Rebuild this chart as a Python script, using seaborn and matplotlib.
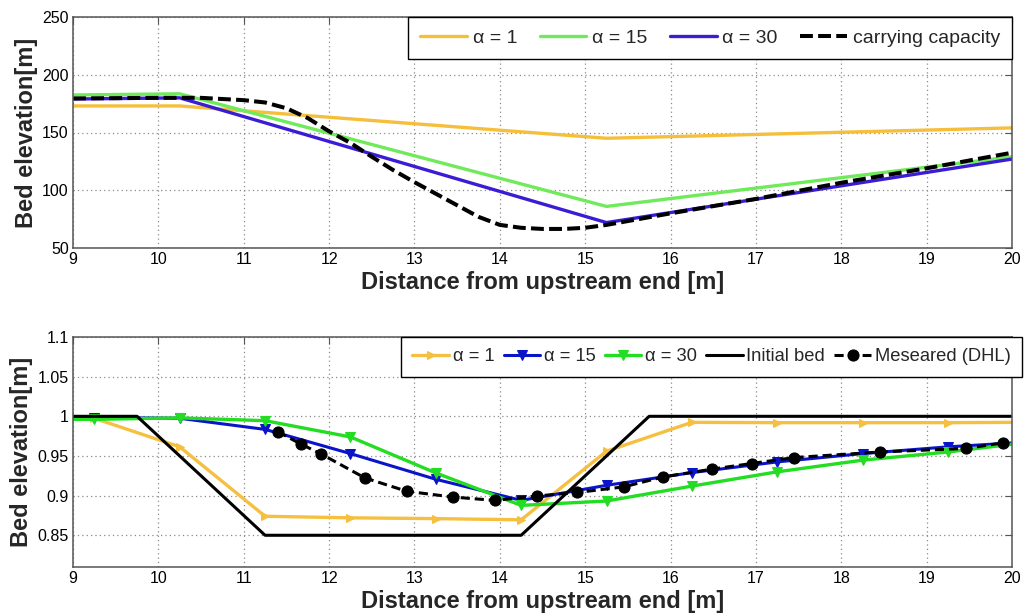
import matplotlib
matplotlib.use("Agg")
import matplotlib.pyplot as plt
import pandas as pd
import seaborn as sns

# ---------------- top panel data ----------------
top_x = [9, 10.25, 15.25, 20]
top_a1 = [173, 173, 145, 154]
top_a15 = [182.5, 183.5, 86, 129]
top_a30 = [179, 180, 72, 127]
cap_x = [9, 10, 10.5, 11, 11.25, 11.5, 11.75, 12, 12.25, 12.5, 12.75, 13, 13.25,
         13.5, 13.75, 14, 14.25, 14.5, 14.75, 15, 15.25, 16, 17, 18, 19, 20]
cap_y = [179.5, 180, 180, 178, 176, 171, 162.5, 151, 141, 129, 117.5, 107, 97,
         87, 77, 70, 67.5, 66.5, 66.5, 67.5, 70, 80, 92.5, 106.5, 119, 132.5]
top_labels = ["\u03b1 = 1", "\u03b1 = 15", "\u03b1 = 30", "carrying capacity"]

# ---------------- bottom panel data ----------------
bot_x = [8.25, 9.25, 10.25, 11.25, 12.25, 13.25, 14.25, 15.25, 16.25, 17.25,
         18.25, 19.25, 20.25]
bot_a1 = [1.0, 0.9975, 0.9615, 0.874, 0.872, 0.871, 0.8695, 0.956, 0.9924,
          0.992, 0.992, 0.992, 0.9925]
bot_a15 = [0.999, 0.9985, 0.9975, 0.9835, 0.953, 0.9206, 0.894, 0.913, 0.929,
           0.9425, 0.953, 0.9615, 0.968]
bot_a30 = [0.996, 0.9962, 0.998, 0.9945, 0.974, 0.9286, 0.8877, 0.8932, 0.912,
           0.930, 0.9447, 0.955, 0.968]
bed_x = [9, 9.75, 11.25, 14.25, 15.75, 20]
bed_y = [1.0, 1.0, 0.85, 0.85, 1.0, 1.0]
meas_x = [11.40, 11.67, 11.91, 12.42, 12.91, 13.45, 13.94, 14.43, 14.91, 15.45,
          15.91, 16.48, 16.95, 17.45, 18.45, 19.46, 19.90]
meas_y = [0.9805, 0.965, 0.9523, 0.9223, 0.9055, 0.8982, 0.894, 0.8995, 0.904,
          0.911, 0.9235, 0.9333, 0.9405, 0.948, 0.955, 0.9595, 0.9666]
bot_labels = ["\u03b1 = 1", "\u03b1 = 15", "\u03b1 = 30", "Initial bed",
              "Meseared (DHL)"]

x_ticks = list(range(9, 21))
top_yticks = [50, 100, 150, 200, 250]
bot_yticks = [0.85, 0.9, 0.95, 1.0, 1.05, 1.1]
bot_yticklabels = ["0.85", "0.9", "0.95", "1", "1.05", "1.1"]

xlabel = "Distance from upstream end [m]"
ylabel = "Bed elevation[m]"

sns.set_style("white")
plt.rcParams["font.family"] = ["Liberation Sans", "DejaVu Sans"]

fig = plt.figure(figsize=(10.24, 6.14), dpi=100)
W, H = 1024, 614
ax1 = fig.add_axes([73 / W, 1 - 248 / H, (1012 - 73) / W, (248 - 17) / H])
ax2 = fig.add_axes([73 / W, 1 - 567 / H, (1012 - 73) / W, (567 - 337) / H])


def style_axes(ax):
    ax.grid(True, linestyle=(0, (1, 2.5)), color="#8a8a8a", linewidth=0.9)
    ax.set_axisbelow(True)
    for s in ax.spines.values():
        s.set_color("#555555")
        s.set_linewidth(1.1)
    ax.tick_params(direction="in", top=True, right=True, length=5,
                   color="#555555", labelsize=11.5, labelcolor="black", pad=3)
    ax.set_xlim(9, 20)
    ax.set_xticks(x_ticks)
    ax.set_xlabel(xlabel, fontsize=17, fontweight="bold", labelpad=3)
    ax.set_ylabel(ylabel, fontsize=17, fontweight="bold", labelpad=3)


# ---------------- top panel ----------------
c_or, c_gr, c_bl = "#F5BF3C", "#6FEA5A", "#3A1CD4"
sns.lineplot(x=top_x, y=top_a1, ax=ax1, color=c_or, lw=2.4, label=top_labels[0],
             estimator=None, sort=False)
sns.lineplot(x=top_x, y=top_a15, ax=ax1, color=c_gr, lw=2.4, label=top_labels[1],
             estimator=None, sort=False)
sns.lineplot(x=top_x, y=top_a30, ax=ax1, color=c_bl, lw=2.4, label=top_labels[2],
             estimator=None, sort=False)
sns.lineplot(x=cap_x, y=cap_y, ax=ax1, color="black", lw=2.9, label=top_labels[3],
             estimator=None, sort=False)
ax1.lines[-1].set_dashes([3.2, 1.3])
style_axes(ax1)
ax1.set_ylim(50, 250)
ax1.set_yticks(top_yticks)
ax1.set_yticklabels([str(v) for v in top_yticks])
leg1 = ax1.legend(loc="upper right", bbox_to_anchor=(1.0, 1.0), borderaxespad=0,
                  ncol=4, fontsize=14, handlelength=2.4, handletextpad=0.3,
                  columnspacing=1.15, frameon=True, fancybox=False,
                  edgecolor="black", framealpha=1, borderpad=0.62)
leg1.get_frame().set_linewidth(1.0)

# ---------------- bottom panel ----------------
b_or, b_bl, b_gr = "#F5C040", "#0A14C8", "#22DD22"
sns.lineplot(x=bot_x, y=bot_a1, ax=ax2, color=b_or, lw=2.4, marker=">", ms=6,
             mec=b_or, label=bot_labels[0], estimator=None, sort=False)
sns.lineplot(x=bot_x, y=bot_a15, ax=ax2, color=b_bl, lw=2.2, marker="v", ms=6.5,
             mec=b_bl, label=bot_labels[1], estimator=None, sort=False)
sns.lineplot(x=bot_x, y=bot_a30, ax=ax2, color=b_gr, lw=2.4, marker="v", ms=6.5,
             mec=b_gr, label=bot_labels[2], estimator=None, sort=False)
sns.lineplot(x=bed_x, y=bed_y, ax=ax2, color="black", lw=2.2, label=bot_labels[3],
             estimator=None, sort=False)
sns.lineplot(x=meas_x, y=meas_y, ax=ax2, color="black", lw=2.2, marker="o", ms=8,
             mec="black", label=bot_labels[4], estimator=None, sort=False)
ax2.lines[-1].set_dashes([3, 1.6])
for ln in ax2.lines:
    ln.set_clip_on(True)
style_axes(ax2)
ax2.set_ylim(0.81, 1.1)
ax2.set_yticks(bot_yticks)
ax2.set_yticklabels(bot_yticklabels)
leg2 = ax2.legend(loc="upper right", bbox_to_anchor=(1.0106, 1.0), borderaxespad=0,
                  ncol=5, fontsize=13.2, handlelength=2.0, handletextpad=0.2,
                  columnspacing=0.5, frameon=True, fancybox=False,
                  edgecolor="black", framealpha=1, borderpad=0.62)
leg2.get_frame().set_linewidth(1.0)

fig.savefig("out.png", dpi=100)
